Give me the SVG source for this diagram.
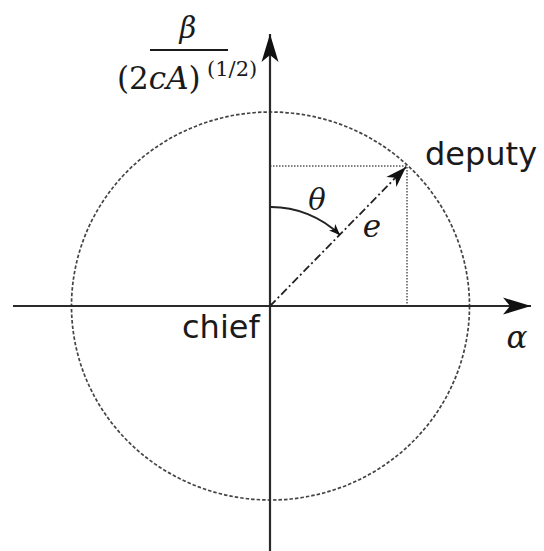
<svg xmlns="http://www.w3.org/2000/svg" width="544" height="551" viewBox="0 0 544 551">
<style>
.axis{stroke:#2a2a2a;stroke-width:2.2;fill:none}
.circ{stroke:#444;stroke-width:1.7;fill:none;stroke-dasharray:3.5 2}
.dot{stroke:#555;stroke-width:1.5;fill:none;stroke-dasharray:1.5 1.5}
.dd{stroke:#222;stroke-width:1.8;fill:none;stroke-dasharray:8 3 2 3}
.arc{stroke:#222;stroke-width:2;fill:none}
.lbl{font-family:"DejaVu Sans","Open Sans",sans-serif;fill:#1a1a1a}
.math{font-family:"DejaVu Serif","Liberation Serif",serif;fill:#1a1a1a}
.it{font-style:italic}
</style>
<defs>
<marker id="big" viewBox="-30 -10 32 20" refX="0" refY="0" markerWidth="32" markerHeight="20" orient="auto" markerUnits="userSpaceOnUse">
<path d="M0,0 L-28,-8.5 L-21,0 L-28,8.5 Z" fill="#111"/>
</marker>
<marker id="mid" viewBox="-24 -8 26 16" refX="0" refY="0" markerWidth="26" markerHeight="16" orient="auto" markerUnits="userSpaceOnUse">
<path d="M0,0 L-21,-7 L-15,0 L-21,7 Z" fill="#111"/>
</marker>
<marker id="small" viewBox="-12 -6 14 12" refX="0" refY="0" markerWidth="14" markerHeight="12" orient="auto" markerUnits="userSpaceOnUse">
<path d="M0,0 L-11,-4.5 L-8,0 L-11,4.5 Z" fill="#111"/>
</marker>
</defs>
<g id="circle">
<ellipse class="circ" cx="270.5" cy="306" rx="199" ry="194"/>
</g>
<g id="projections">
<path class="dot" d="M270,166 H407 V306"/>
</g>
<g id="connectors">
<line class="axis" x1="270" y1="551" x2="270" y2="34" marker-end="url(#big)"/>
<line class="axis" x1="13" y1="306" x2="531" y2="306" marker-end="url(#big)"/>
<line class="dd" x1="270" y1="306" x2="406" y2="167" marker-end="url(#mid)"/>
<path class="arc" d="M270,207 A99,99 0 0 1 340,235" marker-end="url(#small)"/>
</g>
<g id="beta-label">
<text class="math it" x="188" y="38" font-size="29" text-anchor="middle">β</text>
<line x1="150" y1="50" x2="228" y2="50" stroke="#1a1a1a" stroke-width="2"/>
<text class="math" x="117" y="89" font-size="31">(2<tspan class="it">cA</tspan>)</text>
<text class="math" x="207" y="76" font-size="21">(1/2)</text>
</g>
<g id="theta-label"><text class="math it" x="317" y="210" font-size="29" text-anchor="middle">θ</text></g>
<g id="e-label"><text class="math it" x="372" y="237" font-size="31" text-anchor="middle">e</text></g>
<g id="alpha-label"><text class="math it" x="517" y="348" font-size="31" text-anchor="middle">α</text></g>
<g id="deputy"><text class="lbl" x="425" y="165" font-size="32">deputy</text></g>
<g id="chief"><text class="lbl" x="182" y="338" font-size="32">chief</text></g>
</svg>
